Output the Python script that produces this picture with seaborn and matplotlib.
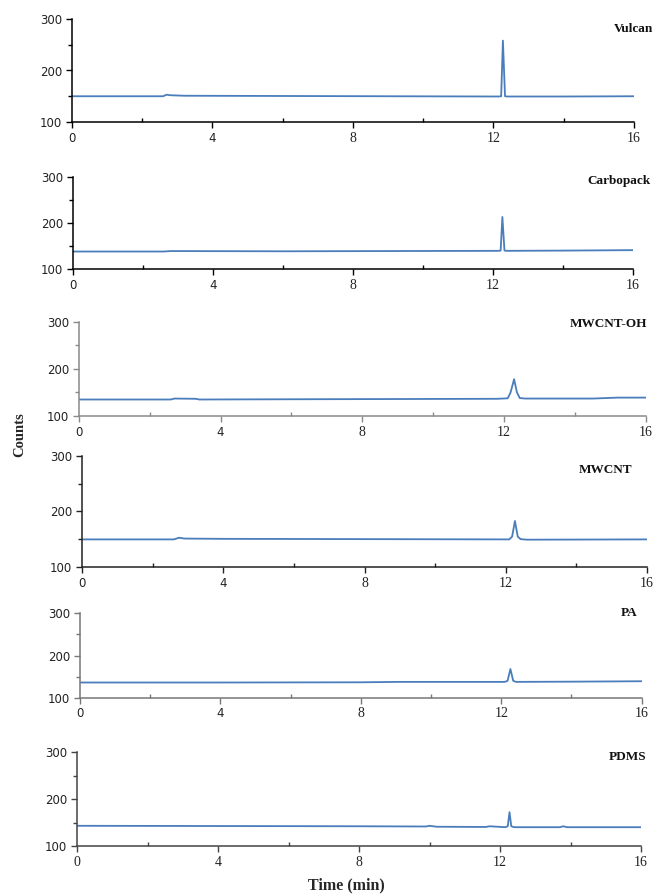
import matplotlib
matplotlib.use("Agg")
import matplotlib.pyplot as plt
import seaborn as sns
import pandas as pd

# ---- data (time in min, counts) ----
sample_names = ["Vulcan", "Carbopack", "MWCNT-OH", "MWCNT", "PA", "PDMS"]

vulcan_t = [0, 2.6, 2.7, 2.8, 3.2, 6, 9, 12.15, 12.22, 12.27, 12.33, 12.4, 14, 16]
vulcan_c = [150, 150, 153, 152, 151, 150.5, 150, 149.5, 150, 258, 150, 149.5, 149.5, 150]

carbo_t = [0, 2.6, 2.8, 6, 9, 12.15, 12.22, 12.27, 12.33, 12.4, 14, 16]
carbo_c = [138, 138, 139, 138.5, 139, 139.5, 140, 213, 140, 139.5, 140, 141]

mwoh_t = [0, 2.6, 2.7, 3.3, 3.4, 6, 9, 11.8, 12.1, 12.18, 12.28, 12.36, 12.44, 12.6, 14.5, 15.2, 16]
mwoh_c = [135, 135, 137, 136.5, 135, 135.5, 136, 136.5, 137.5, 150, 178, 150, 138, 137, 137, 139, 139]

mw_t = [0, 2.6, 2.75, 2.9, 4, 8, 12.1, 12.18, 12.26, 12.34, 12.42, 12.6, 16]
mw_c = [150, 150, 153, 151.5, 151, 150.5, 150, 155, 183, 155, 150.5, 149.5, 150]

pa_t = [0, 4, 8, 9.1, 12.1, 12.18, 12.26, 12.34, 12.42, 14, 16]
pa_c = [136, 136, 136.5, 137.5, 137.5, 140, 168, 140, 137.5, 138, 139]

pdms_t = [0, 4, 8, 9.9, 10.0, 10.2, 11.6, 11.7, 12.15, 12.22, 12.27, 12.32, 12.4, 13.7, 13.8, 13.9, 16]
pdms_c = [143, 142.5, 142, 141.5, 143, 141, 140.5, 142, 140, 142, 172, 142, 140, 140, 142, 140, 140]

series_t = [vulcan_t, carbo_t, mwoh_t, mw_t, pa_t, pdms_t]
series_c = [vulcan_c, carbo_c, mwoh_c, mw_c, pa_c, pdms_c]

x_ticks = [0, 4, 8, 12, 16]
x_minor = [2, 6, 10, 14]
y_ticks = [100, 200, 300]
y_minor = [150, 250]

# ---- layout (pixel boxes: left, right, top, bottom) ----
W, H = 656, 896
boxes = [
    (71.7, 634, 19, 122),
    (72.7, 633, 177, 269),
    (78.7, 646, 321.7, 416),
    (82, 647, 455.7, 567.3),
    (80, 641.7, 613.3, 697.7),
    (77, 641, 752, 846),
]
spine_cols = ["#000000", "#000000", "#8a8a8a", "#222222", "#777777", "#444444"]
# label anchor (right edge x, center y) in pixels
label_pos = [(653, 29), (651, 181), (647, 324), (632, 470), (637, 613), (646, 757)]

sns.set_style("ticks")
plt.rcParams['font.family'] = ['DejaVu Sans']

fig = plt.figure(figsize=(W / 100, H / 100), dpi=100)
line_color = "#4a7dbb"

for i, name in enumerate(sample_names):
    l, r, t, b = boxes[i]
    ax = fig.add_axes([l / W, 1 - b / H, (r - l) / W, (b - t) / H])
    df = pd.DataFrame({"time": series_t[i], "counts": series_c[i]})
    sns.lineplot(data=df, x="time", y="counts", ax=ax, color=line_color,
                 linewidth=1.3, estimator=None, sort=False)
    ax.set_xlim(0, 16)
    ax.set_ylim(100, 300)
    ax.set_xticks(x_ticks)
    ax.set_xticks(x_minor, minor=True)
    ax.set_yticks(y_ticks)
    ax.set_yticks(y_minor, minor=True)
    ax.set_xlabel("")
    ax.set_ylabel("")
    for s in ["top", "right"]:
        ax.spines[s].set_visible(False)
    c = spine_cols[i]
    for s in ["left", "bottom"]:
        ax.spines[s].set_color(c)
        ax.spines[s].set_linewidth(1.1)
    ax.tick_params(axis="both", which="major", length=4, width=1, color=c,
                   labelsize=8.5, labelcolor="#222222", pad=3)
    ax.tick_params(axis="x", which="minor", direction="in", length=3, width=1, color=c)
    ax.tick_params(axis="y", which="minor", direction="out", length=3, width=1, color=c)
    ax.set_xticklabels([str(v) for v in x_ticks])
    ax.set_yticklabels([str(v) for v in y_ticks])
    for lab in ax.get_xticklabels():
        if i == 5 or lab.get_text() in ("8", "12", "16"):
            lab.set_fontfamily("Liberation Serif")
            lab.set_fontsize(10)
    ax.patch.set_alpha(0)
    lx, ly = label_pos[i]
    fig.text(lx / W, 1 - ly / H, name, ha="right", va="center",
             fontfamily="Liberation Serif", fontweight="bold", fontsize=9.5,
             color="#111111")

fig.text(20 / W, 1 - 435 / H, "Counts", rotation=90, ha="center", va="center",
         fontfamily="Liberation Serif", fontweight="bold", fontsize=10.5)
fig.text(346 / W, 1 - 885 / H, "Time (min)", ha="center", va="center",
         fontfamily="Liberation Serif", fontweight="bold", fontsize=11.5)

fig.savefig("out.png", dpi=100)
